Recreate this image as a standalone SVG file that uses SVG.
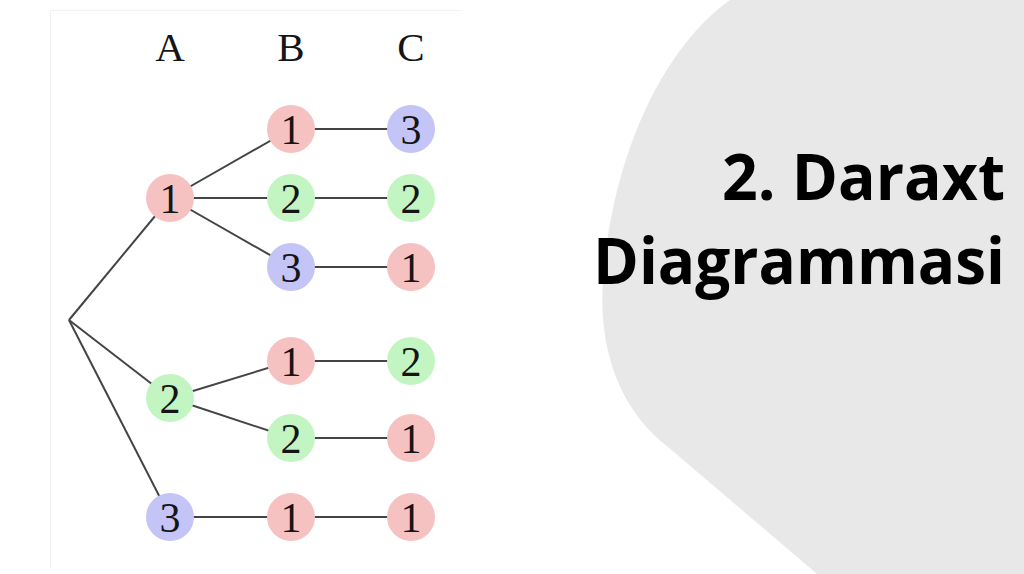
<svg xmlns="http://www.w3.org/2000/svg" width="1024" height="574" viewBox="0 0 1024 574">
<style>
.edge{stroke:#444;stroke-width:2;fill:none}
.r{fill:#f6c1c1}.g{fill:#c3f5c3}.b{fill:#c4c4f6}
.lbl{font-family:"Liberation Serif","Times New Roman",serif;font-size:42px;fill:#151515;text-anchor:middle}
.hdr{font-family:"Liberation Serif","Times New Roman",serif;font-size:41px;fill:#151515;text-anchor:middle}
.title{font-family:"Open Sans","Liberation Sans",sans-serif;font-weight:bold;font-size:64px;fill:#000;text-anchor:end}
</style>
<rect width="1024" height="574" fill="#fff"/>
<path id="backdrop" d="M730,0 C660,50 612,160 603,280 C598,350 620,410 668,447 L817,574 L1024,574 L1024,0 Z" fill="#e8e8e8"/>
<g id="panel">
<line x1="50.5" y1="10" x2="50.5" y2="568" stroke="#f0f0f0" stroke-width="1"/>
<line x1="50" y1="10.5" x2="462" y2="10.5" stroke="#f3f3f3" stroke-width="1"/>
</g>
<g id="headers">
<text class="hdr" x="170" y="61">A</text>
<text class="hdr" x="291" y="61">B</text>
<text class="hdr" x="411" y="61">C</text>
</g>
<g id="connectors">
<line class="edge" x1="69" y1="320" x2="170" y2="198"/>
<line class="edge" x1="69" y1="320" x2="170" y2="398"/>
<line class="edge" x1="69" y1="320" x2="170" y2="517"/>
<line class="edge" x1="170" y1="198" x2="291" y2="129"/>
<line class="edge" x1="170" y1="198" x2="291" y2="198"/>
<line class="edge" x1="170" y1="198" x2="291" y2="267"/>
<line class="edge" x1="170" y1="398" x2="291" y2="361"/>
<line class="edge" x1="170" y1="398" x2="291" y2="438"/>
<line class="edge" x1="170" y1="517" x2="291" y2="517"/>
<line class="edge" x1="291" y1="129" x2="411" y2="129"/>
<line class="edge" x1="291" y1="198" x2="411" y2="198"/>
<line class="edge" x1="291" y1="267" x2="411" y2="267"/>
<line class="edge" x1="291" y1="361" x2="411" y2="361"/>
<line class="edge" x1="291" y1="438" x2="411" y2="438"/>
<line class="edge" x1="291" y1="517" x2="411" y2="517"/>
</g>
<g id="a1"><circle class="r" cx="170" cy="198" r="24"/><text class="lbl" x="170" y="213">1</text></g>
<g id="a2"><circle class="g" cx="170" cy="398" r="24"/><text class="lbl" x="170" y="413">2</text></g>
<g id="a3"><circle class="b" cx="170" cy="517" r="24"/><text class="lbl" x="170" y="532">3</text></g>
<g id="b1"><circle class="r" cx="291" cy="129" r="24"/><text class="lbl" x="291" y="144">1</text></g>
<g id="b2"><circle class="g" cx="291" cy="198" r="24"/><text class="lbl" x="291" y="213">2</text></g>
<g id="b3"><circle class="b" cx="291" cy="267" r="24"/><text class="lbl" x="291" y="282">3</text></g>
<g id="b4"><circle class="r" cx="291" cy="361" r="24"/><text class="lbl" x="291" y="376">1</text></g>
<g id="b5"><circle class="g" cx="291" cy="438" r="24"/><text class="lbl" x="291" y="453">2</text></g>
<g id="b6"><circle class="r" cx="291" cy="517" r="24"/><text class="lbl" x="291" y="532">1</text></g>
<g id="c1"><circle class="b" cx="411" cy="129" r="24"/><text class="lbl" x="411" y="144">3</text></g>
<g id="c2"><circle class="g" cx="411" cy="198" r="24"/><text class="lbl" x="411" y="213">2</text></g>
<g id="c3"><circle class="r" cx="411" cy="267" r="24"/><text class="lbl" x="411" y="282">1</text></g>
<g id="c4"><circle class="g" cx="411" cy="361" r="24"/><text class="lbl" x="411" y="376">2</text></g>
<g id="c5"><circle class="r" cx="411" cy="438" r="24"/><text class="lbl" x="411" y="453">1</text></g>
<g id="c6"><circle class="r" cx="411" cy="517" r="24"/><text class="lbl" x="411" y="532">1</text></g>
<g id="title">
<text class="title" x="1005" y="200" textLength="283" lengthAdjust="spacingAndGlyphs">2. Daraxt</text>
<text class="title" x="1005" y="284" textLength="412" lengthAdjust="spacingAndGlyphs">Diagrammasi</text>
</g>
</svg>
